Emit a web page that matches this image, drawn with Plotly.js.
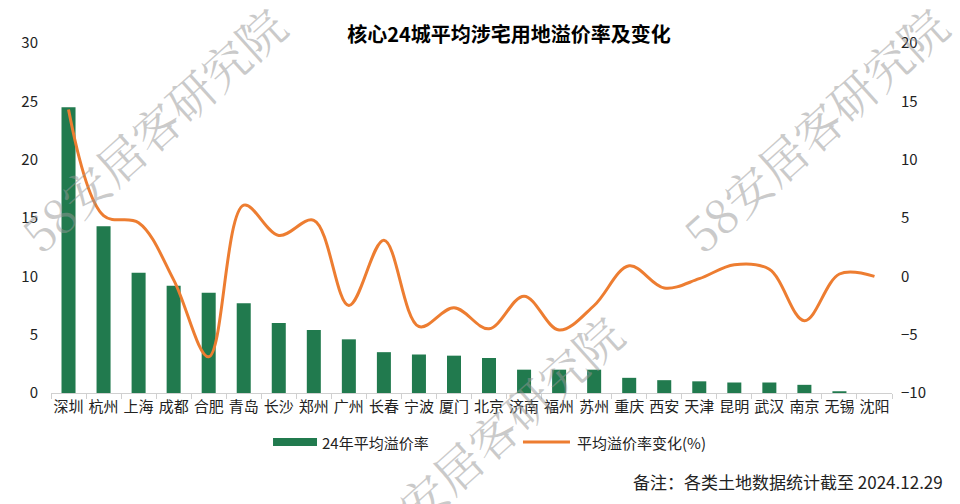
<!DOCTYPE html>
<html><head><meta charset="utf-8">
<script src="https://cdn.plot.ly/plotly-3.0.1.min.js"></script>
<style>html,body{margin:0;padding:0;background:#fff}#chart{width:960px;height:504px}</style>
</head><body><div id="chart"></div>
<script>
const cities = ['深圳','杭州','上海','成都','合肥','青岛','长沙','郑州','广州','长春','宁波','厦门','北京','济南','福州','苏州','重庆','西安','天津','昆明','武汉','南京','无锡','沈阳'];
const premium24 = [24.5,14.3,10.3,9.2,8.6,7.7,6.0,5.4,4.6,3.5,3.3,3.2,3.0,2.0,2.0,2.0,1.3,1.1,1.0,0.9,0.9,0.7,0.15,0];
const premiumChange = [14.3,5.2,4.6,-0.3,-6.9,6.1,3.5,4.8,-2.5,3.1,-4.3,-2.7,-4.5,-1.7,-4.6,-2.5,0.9,-1.0,-0.2,1.0,0.6,-3.8,0.2,0.0];
const leftTicks = [0,5,10,15,20,25,30];
const rightTicks = [-10,-5,0,5,10,15,20];
const seriesNames = ['24年平均溢价率','平均溢价率变化(%)'];
const titleText = '核心24城平均涉宅用地溢价率及变化';
const noteText = '备注：各类土地数据统计截至 2024.12.29';
const watermark = '58安居客研究院';

const font = 'Noto Sans CJK SC, Microsoft YaHei, sans-serif';
const green = '#217a4e', orange = '#ed7d31';
const traces = [
  {type:'bar', name:seriesNames[0], x:cities, y:premium24, marker:{color:green}, width:0.4, yaxis:'y', showlegend:false},
  {type:'scatter', mode:'lines', name:seriesNames[1], x:cities, y:premiumChange, yaxis:'y2', showlegend:false,
   line:{color:orange, width:3, shape:'spline', smoothing:1}}
];
const wm = (x,y)=>({text:watermark, x:x, y:y, xref:'paper', yref:'paper', xanchor:'center', yanchor:'middle', showarrow:false, textangle:-42,
  font:{family:'Noto Serif CJK SC, Noto Sans CJK SC, serif', size:47, color:'rgba(150,150,150,0.5)'}});
const layout = {
  width:960, height:504, paper_bgcolor:'#fff', plot_bgcolor:'#fff',
  margin:{l:51, r:68, t:43, b:111},
  title:{text:'<b>'+titleText+'</b>', x:0.5446, xanchor:'center', xref:'paper', y:0.9306, yanchor:'middle', font:{family:font, size:20, color:'#000'}},
  font:{family:font, color:'#222'},
  showlegend:false,
  xaxis:{type:'category', showline:true, linecolor:'#d0d0d0', linewidth:1, ticks:'outside', tickson:'boundaries',
    ticklen:5, tickcolor:'#d0d0d0', tickangle:0, tickfont:{size:15, color:'#222'}, showgrid:false},
  yaxis:{range:[0,30], tickvals:leftTicks, showgrid:false, zeroline:false, showline:false, tickfont:{size:15, color:'#222'}, ticklabelstandoff:12},
  yaxis2:{range:[-10,20], tickvals:rightTicks, overlaying:'y', side:'right', showgrid:false, zeroline:false, showline:false, tickfont:{size:15, color:'#222'}, ticklabelstandoff:8},
  shapes:[
    {type:'rect', xref:'paper', yref:'paper', x0:0.264, x1:0.3163, y0:-0.1514, y1:-0.1286, fillcolor:green, line:{width:0}},
    {type:'line', xref:'paper', yref:'paper', x0:0.5612, x1:0.6171, y0:-0.14, y1:-0.14, line:{color:orange, width:3}}
  ],
  annotations:[
    {text:seriesNames[0], xref:'paper', yref:'paper', x:0.3199, xanchor:'left', y:-0.14, yanchor:'middle', showarrow:false, font:{family:font, size:15, color:'#222'}},
    {text:seriesNames[1], xref:'paper', yref:'paper', x:0.623, xanchor:'left', y:-0.14, yanchor:'middle', showarrow:false, font:{family:font, size:15, color:'#222'}},
    {text:noteText, xref:'paper', yref:'paper', x:1.063, xanchor:'right', y:-0.254, yanchor:'middle', showarrow:false, font:{family:font, size:17, color:'#222'}},
    wm(0.12,0.757), wm(0.907,0.757), wm(0.521,-0.123)
  ]
};
Plotly.newPlot('chart', traces, layout, {displayModeBar:false, staticPlot:true});
</script></body></html>
